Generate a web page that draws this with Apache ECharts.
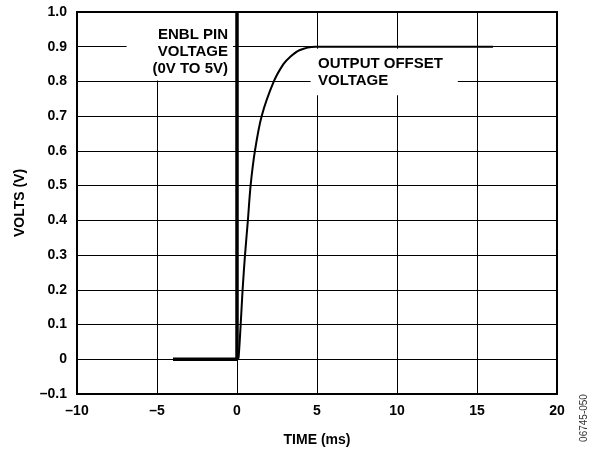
<!DOCTYPE html>
<html>

<head>
    <meta charset="utf-8">
    <title>ENBL turn-on</title>
    <script src="https://cdn.jsdelivr.net/npm/echarts@6/dist/echarts.min.js"></script>
</head>

<body style="margin:0">
    <div id="main" style="width: 598px;height:452px;"></div>
    <script type="text/javascript">
        // time in ms, volts
        var enblTime = [-4, 0, 0];
        var enblVolts = [0, 0, 1.0];

        var outTime = [0.05, 0.1, 0.23, 0.35, 0.5, 0.68, 0.85, 1.12, 1.54, 2.3, 2.9, 3.3, 3.9, 4.9, 16];
        var outVolts = [0, 0.005, 0.1, 0.2, 0.3, 0.4, 0.5, 0.6, 0.7, 0.8, 0.85, 0.87, 0.89, 0.9, 0.9];

        var xTicks = [-10, -5, 0, 5, 10, 15, 20];
        var yTicks = [-0.1, 0, 0.1, 0.2, 0.3, 0.4, 0.5, 0.6, 0.7, 0.8, 0.9, 1.0];

        function pairs(xs, ys) {
            return xs.map(function (x, i) { return [x, ys[i]]; });
        }

        var font = 'Arial, "Liberation Sans", sans-serif';
        var dom = document.getElementById("main");
        var myChart = echarts.init(dom);

        var option = {
            animation: false,
            backgroundColor: '#fff',
            grid: {
                left: 77, right: 41, top: 12, bottom: 57,
                show: true, borderColor: '#000', borderWidth: 2
            },
            xAxis: {
                type: 'value',
                min: xTicks[0], max: xTicks[xTicks.length - 1], interval: 5,
                name: 'TIME (ms)', nameLocation: 'middle', nameGap: 39,
                nameTextStyle: { fontFamily: font, fontWeight: 'bold', fontSize: 14, color: '#000' },
                axisLine: { show: false },
                axisTick: { show: false },
                axisLabel: {
                    margin: 10, fontFamily: font, fontWeight: 'bold', fontSize: 14, color: '#000',
                    formatter: function (v) { return String(v).replace('-', '\u2013'); }
                },
                splitLine: { lineStyle: { color: '#000', width: 1 } }
            },
            yAxis: {
                type: 'value',
                min: yTicks[0], max: yTicks[yTicks.length - 1], interval: 0.1,
                name: 'VOLTS (V)', nameLocation: 'middle', nameGap: 50,
                nameTextStyle: { fontFamily: font, fontWeight: 'bold', fontSize: 14, color: '#000' },
                axisLine: { show: false },
                axisTick: { show: false },
                axisLabel: {
                    margin: 10, fontFamily: font, fontWeight: 'bold', fontSize: 14, color: '#000',
                    formatter: function (v) {
                        var s = Math.abs(v) < 1e-9 ? '0' : v.toFixed(1);
                        return s.replace('-', '\u2013');
                    }
                },
                splitLine: { lineStyle: { color: '#000', width: 1 } }
            },
            series: [{
                name: 'OUTPUT OFFSET VOLTAGE',
                type: 'line',
                data: pairs(outTime, outVolts),
                smooth: 0.3,
                showSymbol: false,
                lineStyle: { color: '#000', width: 2 },
                z: 4
            }, {
                name: 'ENBL PIN VOLTAGE',
                type: 'line',
                data: pairs(enblTime, enblVolts),
                showSymbol: false,
                lineStyle: { color: '#000', width: 3.5 },
                z: 5
            }]
        };
        myChart.setOption(option);

        // annotations with white boxes that hide the grid behind them
        var p1a = myChart.convertToPixel({ gridIndex: 0 }, [-6.9, 1.0]);
        var p1b = myChart.convertToPixel({ gridIndex: 0 }, [-0.25, 0.8]);
        var t1 = myChart.convertToPixel({ gridIndex: 0 }, [-0.56, 0.96]);
        var p2a = myChart.convertToPixel({ gridIndex: 0 }, [4.6, 0.9]);
        var p2b = myChart.convertToPixel({ gridIndex: 0 }, [13.8, 0.76]);
        var t2 = myChart.convertToPixel({ gridIndex: 0 }, [5.06, 0.876]);

        myChart.setOption({
            graphic: [{
                type: 'rect', z: 3,
                shape: { x: p1a[0], y: p1a[1] + 1, width: p1b[0] - p1a[0], height: p1b[1] - p1a[1] - 2 },
                style: { fill: '#fff' }
            }, {
                type: 'text', z: 3, x: t1[0], y: t1[1],
                style: {
                    text: 'ENBL PIN\nVOLTAGE\n(0V TO 5V)', align: 'right', verticalAlign: 'top',
                    font: 'bold 15px ' + font, fill: '#000', lineHeight: 17
                }
            }, {
                type: 'rect', z: 3,
                shape: { x: p2a[0], y: p2a[1] + 2, width: p2b[0] - p2a[0], height: p2b[1] - p2a[1] - 2 },
                style: { fill: '#fff' }
            }, {
                type: 'text', z: 3, x: t2[0], y: t2[1],
                style: {
                    text: 'OUTPUT OFFSET\nVOLTAGE', align: 'left', verticalAlign: 'top',
                    font: 'bold 15px ' + font, fill: '#000', lineHeight: 17
                }
            }, {
                type: 'text', z: 3, x: 584, y: 418, rotation: Math.PI / 2,
                style: {
                    text: '06745-050', align: 'center', verticalAlign: 'middle',
                    font: '10px ' + font, fill: '#333'
                }
            }]
        });
    </script>
</body>

</html>
